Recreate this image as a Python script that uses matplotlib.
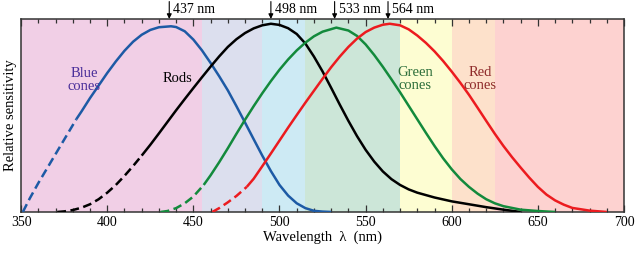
import matplotlib
matplotlib.use('Agg')
import matplotlib.pyplot as plt
from matplotlib.transforms import blended_transform_factory

plt.rcParams['font.family'] = ['Liberation Serif', 'DejaVu Serif']

# curves (wavelength nm, relative sensitivity)
blue_wl = [351, 355, 360, 365, 370, 375, 380, 382, 385, 390, 395, 400, 405, 410, 415, 420,
           425, 430, 437, 440, 445, 450, 455, 460, 465, 470, 475, 480, 485, 490, 495, 500,
           505, 510, 515, 520, 525, 530]
blue_val = [0.0, 0.07, 0.15, 0.225, 0.30, 0.375, 0.45, 0.48, 0.52, 0.59, 0.655, 0.72, 0.78,
            0.835, 0.882, 0.918, 0.943, 0.957, 0.962, 0.958, 0.936, 0.893, 0.837, 0.772,
            0.703, 0.63, 0.548, 0.463, 0.377, 0.292, 0.212, 0.14, 0.085, 0.045, 0.02, 0.006,
            0.002, 0.0]

rod_wl = [371, 375, 380, 385, 390, 395, 400, 405, 410, 415, 420, 425, 430, 435, 440, 445,
          450, 455, 460, 465, 470, 475, 480, 485, 490, 495, 500, 505, 510, 515, 520, 525,
          530, 535, 540, 545, 550, 555, 560, 565, 570, 575, 580, 590, 600, 610, 620, 630, 640]
rod_val = [0.0, 0.003, 0.01, 0.022, 0.04, 0.066, 0.10, 0.14, 0.187, 0.238, 0.292, 0.348, 0.407,
           0.467, 0.527, 0.585, 0.642, 0.698, 0.753, 0.806, 0.855, 0.895, 0.927, 0.951, 0.967,
           0.975, 0.969, 0.952, 0.922, 0.873, 0.805, 0.728, 0.643, 0.556, 0.472, 0.393, 0.322,
           0.261, 0.21, 0.17, 0.14, 0.117, 0.10, 0.075, 0.055, 0.04, 0.025, 0.012, 0.0]

green_wl = [431, 435, 440, 445, 450, 456, 460, 465, 470, 475, 480, 485, 490, 495, 500, 505,
            510, 515, 520, 525, 533, 540, 545, 550, 555, 560, 565, 570, 575, 580, 585, 590,
            595, 600, 605, 610, 615, 620, 625, 630, 640, 650, 660]
green_val = [0.0, 0.005, 0.02, 0.045, 0.08, 0.14, 0.19, 0.258, 0.33, 0.405, 0.478, 0.548,
             0.615, 0.678, 0.737, 0.79, 0.837, 0.877, 0.91, 0.934, 0.955, 0.94, 0.912, 0.868,
             0.813, 0.752, 0.687, 0.62, 0.55, 0.48, 0.41, 0.342, 0.278, 0.221, 0.171, 0.13,
             0.095, 0.066, 0.045, 0.03, 0.012, 0.005, 0.0]

red_wl = [461, 465, 470, 475, 481, 485, 490, 495, 500, 505, 510, 515, 520, 525, 530, 535, 540,
          545, 550, 555, 560, 564, 570, 575, 580, 585, 590, 595, 600, 605, 610, 615, 620, 625,
          630, 635, 640, 645, 650, 655, 660, 665, 670, 680, 690]
red_val = [0.0, 0.02, 0.05, 0.083, 0.13, 0.172, 0.237, 0.303, 0.37, 0.437, 0.502, 0.566,
           0.628, 0.69, 0.75, 0.805, 0.855, 0.898, 0.932, 0.955, 0.97, 0.975, 0.967, 0.946,
           0.914, 0.876, 0.832, 0.782, 0.727, 0.669, 0.607, 0.54, 0.472, 0.405, 0.342, 0.284,
           0.23, 0.178, 0.13, 0.09, 0.06, 0.038, 0.021, 0.007, 0.0]

# wavelength where each curve switches from dashed to solid
dash_end = {'blue': 382, 'rod': 420, 'green': 456, 'red': 481}

# background colour bands
band_edges = [350, 455, 490, 515, 570, 600, 625, 700]
band_colors = ['#f1cfe6', '#dcdfee', '#cdeaf4', '#cce6d8', '#fdfdd2', '#fde1cb', '#fdd2d0']

peak_labels = ['437 nm', '498 nm', '533 nm', '564 nm']
peak_arrow_at = [436, 495, 532, 563]

fig = plt.figure(figsize=(6.4, 2.63), dpi=100)
ax = fig.add_axes([0.033, 0.194, 0.942, 0.734])

for i, c in enumerate(band_colors):
    ax.axvspan(band_edges[i], band_edges[i + 1], color=c, lw=0, zorder=0)

curves = [
    (blue_wl, blue_val, '#1d5aa5', 'blue'),
    (rod_wl, rod_val, 'black', 'rod'),
    (green_wl, green_val, '#138a3c', 'green'),
    (red_wl, red_val, '#ec1b1f', 'red'),
]
for wl, val, col, key in curves:
    k = wl.index(dash_end[key])
    ax.plot(wl[:k + 1], val[:k + 1], color=col, lw=1.8, ls=(0, (3.5, 1.8)),
            dash_capstyle='butt', zorder=3)
    ax.plot(wl[k:], val[k:], color=col, lw=1.8, solid_joinstyle='round',
            solid_capstyle='butt', zorder=3)

ax.set_xlim(350, 700)
ax.set_ylim(0, 1)
ax.set_xticks(range(350, 701, 50))
ax.set_xticks(range(350, 701, 10), minor=True)
ax.set_yticks([])
ax.tick_params(axis='x', which='both', direction='in', top=True, bottom=True,
               labelsize=10, pad=3, color='#333333')
ax.tick_params(axis='x', which='major', length=5, width=0.9)
ax.tick_params(axis='x', which='minor', length=3, width=0.9)
for s in ax.spines.values():
    s.set_color('#333333')
    s.set_linewidth(1.1)

ax.set_xlabel('Wavelength  λ  (nm)', fontsize=10.5, labelpad=1)
ax.set_ylabel('Relative sensitivity', fontsize=10.5, labelpad=3)

ax.text(386.5, 0.685, 'Blue\ncones', color='#4a2f9a', fontsize=10.5, ha='center',
        va='center', linespacing=1.0)
ax.text(440.5, 0.69, 'Rods', color='black', fontsize=10.5, ha='center', va='center')
ax.text(578.7, 0.69, 'Green\ncones', color='#2c6e3a', fontsize=10.5, ha='center',
        va='center', linespacing=1.0)
ax.text(616.4, 0.69, 'Red\ncones', color='#8e2a2a', fontsize=10.5, ha='center',
        va='center', linespacing=1.0)

tr = blended_transform_factory(ax.transData, ax.transAxes)
for lab, xa in zip(peak_labels, peak_arrow_at):
    ax.annotate('', xy=(xa, 1.0), xycoords=tr, xytext=(xa, 1.09), textcoords=tr,
                arrowprops=dict(arrowstyle='-|>', color='black', lw=0.8,
                                mutation_scale=7, shrinkA=0, shrinkB=0),
                annotation_clip=False)
    ax.text(xa + 2.3, 1.05, lab, transform=tr, fontsize=10, ha='left', va='center')

fig.savefig('out.png', dpi=100)
